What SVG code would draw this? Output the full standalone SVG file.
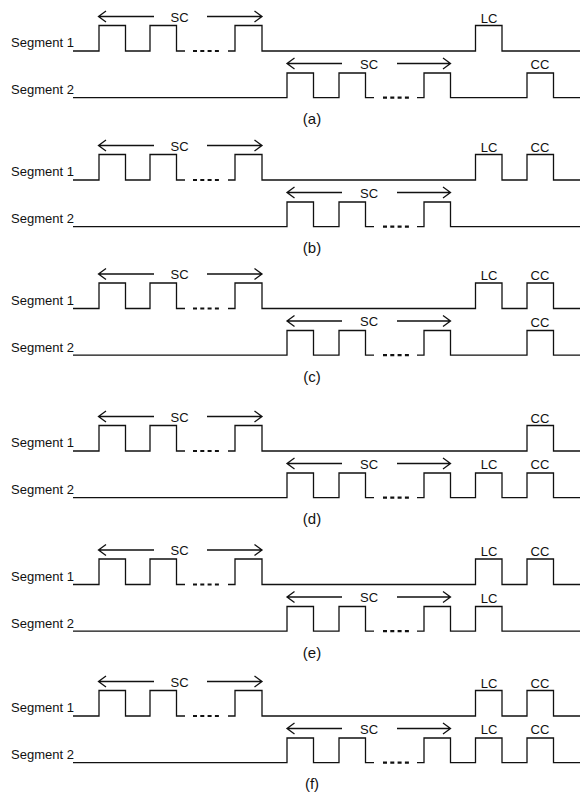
<svg xmlns="http://www.w3.org/2000/svg" xmlns:xlink="http://www.w3.org/1999/xlink" width="580" height="793" viewBox="0 0 580 793">
<style>
  .bg { fill: #ffffff; }
  .wave { fill: none; stroke: #111; stroke-width: 1.3; stroke-linejoin: miter; }
  .dots { fill: none; stroke: #111; stroke-width: 2.2; stroke-dasharray: 4 3.3; }
  .arr { fill: none; stroke: #111; stroke-width: 1.3; }
  .lbl { font-family: "Liberation Sans", Arial, sans-serif; font-size: 13px; fill: #111; }
  .mid { text-anchor: middle; }
  .cap { font-family: "Liberation Sans", Arial, sans-serif; font-size: 15px; fill: #111; text-anchor: middle; }
</style>
<defs>
  <!-- Segment 1 common short-cycle part -->
  <g id="s1sc">
    <path class="wave" d="M73,51 H99 V25.5 H125.5 V51 H150 V25.5 H176.5 V51 H185"/>
    <path class="dots" d="M193,51 H219"/>
    <path class="arr" d="M154,16.5 H98.5 M106,11 L98.5,16.5 L106,22 M207,16.5 H262 M254.5,11 L262,16.5 L254.5,22"/>
    <text class="lbl mid" x="179.5" y="21.5">SC</text>
    <text class="lbl" x="11" y="47">Segment 1</text>
  </g>
  <!-- Segment 2 common short-cycle part -->
  <g id="s2sc">
    <path class="wave" d="M73,97.7 H287 V73 H313.5 V97.7 H339 V73 H365.5 V97.7 H374"/>
    <path class="dots" d="M383,97.7 H409"/>
    <path class="arr" d="M342,63.5 H287 M294.5,58 L287,63.5 L294.5,69 M397,63.5 H450.5 M443,58 L450.5,63.5 L443,69"/>
    <text class="lbl mid" x="369" y="68.5">SC</text>
    <text class="lbl" x="11" y="94">Segment 2</text>
  </g>
</defs>
<rect class="bg" x="0" y="0" width="580" height="793"/>

<!-- (a) -->
<g id="panel-a">
  <g id="a-seg1">
    <use xlink:href="#s1sc"/>
    <path class="wave" d="M228,51 H235 V25.5 H262 V51 H475.5 V25.5 H502 V51 H580"/>
    <text class="lbl mid" x="489" y="22.5">LC</text>
  </g>
  <g id="a-seg2">
    <use xlink:href="#s2sc"/>
    <path class="wave" d="M417,97.7 H424 V73 H450.5 V97.7 H527 V73 H553.5 V97.7 H580"/>
    <text class="lbl mid" x="540" y="69">CC</text>
  </g>
  <text class="cap" x="312" y="124">(a)</text>
</g>

<!-- (b) -->
<g id="panel-b" transform="translate(0,129)">
  <g id="b-seg1">
    <use xlink:href="#s1sc"/>
    <path class="wave" d="M228,51 H235 V25.5 H262 V51 H475.5 V25.5 H502 V51 H527 V25.5 H553.5 V51 H580"/>
    <text class="lbl mid" x="489" y="22.5">LC</text>
    <text class="lbl mid" x="540" y="22.5">CC</text>
  </g>
  <g id="b-seg2">
    <use xlink:href="#s2sc"/>
    <path class="wave" d="M417,97.7 H424 V73 H450.5 V97.7 H580"/>
  </g>
  <text class="cap" x="312" y="124">(b)</text>
</g>

<!-- (c) -->
<g id="panel-c" transform="translate(0,257.5)">
  <g id="c-seg1">
    <use xlink:href="#s1sc"/>
    <path class="wave" d="M228,51 H235 V25.5 H262 V51 H475.5 V25.5 H502 V51 H527 V25.5 H553.5 V51 H580"/>
    <text class="lbl mid" x="489" y="22.5">LC</text>
    <text class="lbl mid" x="540" y="22.5">CC</text>
  </g>
  <g id="c-seg2">
    <use xlink:href="#s2sc"/>
    <path class="wave" d="M417,97.7 H424 V73 H450.5 V97.7 H527 V73 H553.5 V97.7 H580"/>
    <text class="lbl mid" x="540" y="69">CC</text>
  </g>
  <text class="cap" x="312" y="124">(c)</text>
</g>

<!-- (d) -->
<g id="panel-d" transform="translate(0,400)">
  <g id="d-seg1">
    <use xlink:href="#s1sc"/>
    <path class="wave" d="M228,51 H235 V25.5 H262 V51 H527 V25.5 H553.5 V51 H580"/>
    <text class="lbl mid" x="540" y="22.5">CC</text>
  </g>
  <g id="d-seg2">
    <use xlink:href="#s2sc"/>
    <path class="wave" d="M417,97.7 H424 V73 H450.5 V97.7 H475.5 V73 H502 V97.7 H527 V73 H553.5 V97.7 H580"/>
    <text class="lbl mid" x="489" y="69">LC</text>
    <text class="lbl mid" x="540" y="69">CC</text>
  </g>
  <text class="cap" x="312" y="124">(d)</text>
</g>

<!-- (e) -->
<g id="panel-e" transform="translate(0,533.5)">
  <g id="e-seg1">
    <use xlink:href="#s1sc"/>
    <path class="wave" d="M228,51 H235 V25.5 H262 V51 H475.5 V25.5 H502 V51 H527 V25.5 H553.5 V51 H580"/>
    <text class="lbl mid" x="489" y="22.5">LC</text>
    <text class="lbl mid" x="540" y="22.5">CC</text>
  </g>
  <g id="e-seg2">
    <use xlink:href="#s2sc"/>
    <path class="wave" d="M417,97.7 H424 V73 H450.5 V97.7 H475.5 V73 H502 V97.7 H580"/>
    <text class="lbl mid" x="489" y="69">LC</text>
  </g>
  <text class="cap" x="312" y="124">(e)</text>
</g>

<!-- (f) -->
<g id="panel-f" transform="translate(0,665)">
  <g id="f-seg1">
    <use xlink:href="#s1sc"/>
    <path class="wave" d="M228,51 H235 V25.5 H262 V51 H475.5 V25.5 H502 V51 H527 V25.5 H553.5 V51 H580"/>
    <text class="lbl mid" x="489" y="22.5">LC</text>
    <text class="lbl mid" x="540" y="22.5">CC</text>
  </g>
  <g id="f-seg2">
    <use xlink:href="#s2sc"/>
    <path class="wave" d="M417,97.7 H424 V73 H450.5 V97.7 H475.5 V73 H502 V97.7 H527 V73 H553.5 V97.7 H580"/>
    <text class="lbl mid" x="489" y="69">LC</text>
    <text class="lbl mid" x="540" y="69">CC</text>
  </g>
  <text class="cap" x="312" y="124">(f)</text>
</g>
</svg>
